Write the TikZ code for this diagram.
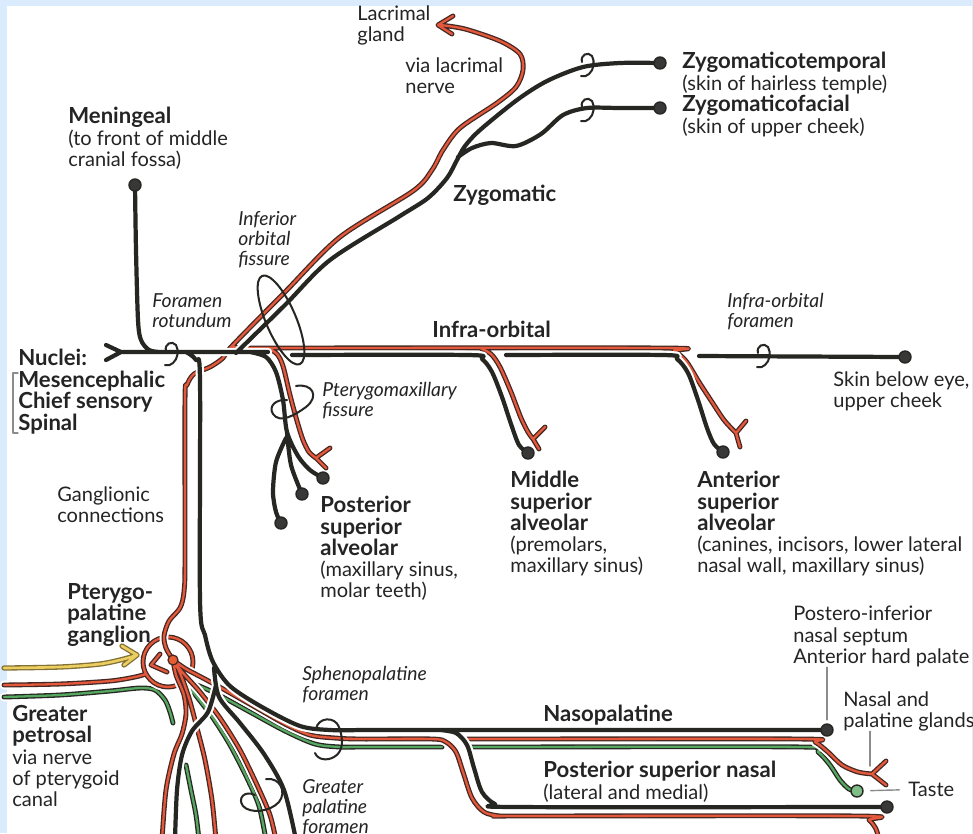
\documentclass[tikz,border=0pt]{standalone}
\usepackage{fontspec}
\setmainfont{Lato}
\definecolor{nred}{RGB}{228,88,60}
\definecolor{ngreen}{RGB}{86,168,96}
\definecolor{nyellow}{RGB}{236,206,96}
\definecolor{nblack}{RGB}{38,38,34}
\definecolor{nedge}{RGB}{70,40,34}
\definecolor{pagebg}{RGB}{217,235,252}
\definecolor{txt}{RGB}{36,36,36}
\newcommand\hd[1]{{\fontsize{12.6}{12.2}\selectfont\bfseries #1}}
\begin{document}
\begin{tikzpicture}[x=0.02cm, y=-0.02cm, line join=round, line cap=round,
  blk/.style={draw=nblack, line width=2.4pt, preaction={draw=white, line width=4.8pt}},
  rd/.style={draw=nred, line width=1.3pt, preaction={draw=white, line width=5pt}, preaction={draw=nedge, line width=2.8pt}},
  gr/.style={draw=ngreen, line width=1.3pt, preaction={draw=white, line width=5pt}, preaction={draw=nblack, line width=2.8pt}},
  yl/.style={draw=nyellow, line width=1.5pt, preaction={draw=black!45!nyellow, line width=3pt}},
  hole/.style={draw=nblack, line width=1.15pt},
  ptr/.style={draw=black!45, line width=0.8pt},
  dot/.style={circle, draw=nblack, fill=black!78, line width=0.8pt, minimum size=0.24cm, inner sep=0pt},
  lbl/.style={anchor=north west, inner sep=0pt, align=left, text=txt, font=\fontsize{11.4}{12.1}\selectfont},
  lblb/.style={lbl, font=\fontsize{12.6}{12.2}\selectfont\bfseries},
  ital/.style={lbl, font=\fontsize{11}{11.4}\selectfont\itshape},
  foramen/.pic={\draw[hole] (-6,-3) .. controls (-8,-10) and (0,-14) .. (4,-9) .. controls (7,-4) and (6,5) .. (1,9) .. controls (-1,11) and (-4,12) .. (-7,11);}
]
\useasboundingbox (0,0) rectangle (973,833);
\fill[pagebg] (0,0) rectangle (973,833);
\fill[white] (7,6) rectangle (972,833);

\coordinate (cMen) at (135,185);
\coordinate (cZT) at (660,63);
\coordinate (cZF) at (660,108);
\coordinate (cSkin) at (905,357);
\coordinate (cPSA1) at (323,478);
\coordinate (cPSA2) at (302,494);
\coordinate (cPSA3) at (281,523);
\coordinate (cMSA) at (528,453);
\coordinate (cASA) at (723,452);
\coordinate (cNP) at (827,730);
\coordinate (cPSN) at (887,807);
\coordinate (cTaste) at (857,791);
\coordinate (cGang) at (173,660);
\coordinate (cGland) at (870,766);

% green fibres
\draw[gr] plot[smooth, tension=0.5] coordinates {(4,697) (60,695) (110,691) (140,688) (155,690) (165,700) (170,712) (173,723)};
\draw[gr] plot[smooth, tension=0.5] coordinates {(186,683) (197,697) (213,718) (230,745) (247,778) (259,806) (266,840)}
  plot[smooth, tension=0.5] coordinates {(192,683) (215,693) (250,712) (285,731) (315,744) (340,747) (360,747) (442,747)}
  plot[smooth, tension=0.5] coordinates {(186,765) (191,790) (196,815) (199,840)}
  plot[smooth, tension=0.5] coordinates {(477,747) (500,747) (803,747) (818,752) (830,765) (840,780) (849,789) (cTaste)};

% red fibres
\draw[rd] plot[smooth, tension=0.5] coordinates {(4,685) (60,684) (110,681) (135,677) (146,674)}
  (160,654) -- (151,665) -- (167,672)
  (168,662) circle[radius=25];
\draw[rd] plot[smooth, tension=0.5] coordinates {(cGang) (166,648) (164,636) (169,621) (180,608) (184,592) (185,560) (185,400) (187,385) (194,374) (210,367) (223,358) (232,346) (285,292) (340,237) (413,191) (432,170) (443,150) (460,128) (497,103) (516,87) (523,70) (520,54) (500,41) (465,29) (440,25)}
  (453,16) -- (438,25) -- (452,34)
  plot[smooth, tension=0.5] coordinates {(232,346) (240,348) (262,348) (660,348) (674,351) (686,361) (699,382) (712,402) (724,420) (736,433)}
  (746,421) -- (736,433) -- (740,447)
  plot[smooth, tension=0.5] coordinates {(268,348) (277,354) (283,366) (290,395) (297,421) (303,440) (309,452) (316,458)}
  (330,448) -- (316,458) -- (326,468)
  plot[smooth, tension=0.5] coordinates {(480,348) (491,354) (500,367) (511,392) (521,418) (528,432) (533,439)}
  (545,427) -- (533,439) -- (539,449);
\draw[rd] plot[smooth, tension=0.5] coordinates {(cGang) (186,669) (203,678) (225,690) (255,707) (285,724) (310,735) (335,738) (360,739) (432,739) (446,742) (456,752) (463,772) (472,798) (484,812) (500,816) (520,816) (858,816) (869,820) (876,829) (879,840)}
  plot[smooth, tension=0.5] coordinates {(cGang) (183,673) (200,692) (220,718) (240,750) (258,787) (270,815) (276,840)}
  plot[smooth, tension=0.5] coordinates {(cGang) (176,675) (184,695) (186,714) (182,734) (174,754) (166,790) (162,840)}
  plot[smooth, tension=0.5] coordinates {(cGang) (180,673) (189,698) (197,728) (205,760) (212,800) (216,840)}
  plot[smooth, tension=0.5] coordinates {(470,739) (500,739) (800,739) (815,742) (828,752) (842,765) (858,772) (872,774)}
  (886,761) -- (872,774) -- (886,785);

% yellow fibres
\draw[yl] plot[smooth, tension=0.5] coordinates {(4,668) (60,667) (100,664) (124,659) (137,655)}
  (122,646) -- (137,655) -- (124,665);

% maxillary nerve
\draw[blk] (106,345) -- (121,352) -- (106,360)
  (121,352) -- (268,352)
  plot[smooth, tension=0.5] coordinates {(cMen) (136,250) (138,320) (141,340) (149,350) (160,352)}
  plot[smooth, tension=0.5] coordinates {(236,353) (285,305) (330,260) (400,216) (428,198) (447,178) (457,160) (465,146) (480,130) (517,100) (547,81) (583,67) (620,63) (cZT)}
  plot[smooth, tension=0.5] coordinates {(458,157) (472,148) (491,143) (516,146) (541,134) (563,115) (587,108) (620,108) (cZF)}
  plot[smooth, tension=0.5] coordinates {(250,352) (266,357) (276,372) (283,400) (287,432) (298,456) (310,470) (cPSA1)}
  plot[smooth, tension=0.5] coordinates {(287,432) (291,465) (cPSA2)}
  plot[smooth, tension=0.5] coordinates {(286,438) (276,462) (273,492) (276,512) (cPSA3)}
  plot[smooth, tension=0.5] coordinates {(292,355) (468,355) (482,359) (492,372) (502,397) (511,424) (519,445) (cMSA)}
  plot[smooth, tension=0.5] coordinates {(506,355) (663,355) (677,359) (688,373) (698,400) (707,428) (714,444) (cASA)}
  (699,356) -- (cSkin)
  plot[smooth, tension=0.5] coordinates {(186,352) (196,360) (200,380) (200,600) (205,635) (213,662) (230,686) (262,707) (300,726) (330,730) (360,730)} -- (cNP)
  plot[smooth, tension=0.5] coordinates {(214,668) (219,697) (240,723) (264,754) (284,790) (296,840)}
  plot[smooth, tension=0.5] coordinates {(216,685) (208,712) (192,731) (182,755) (177,790) (175,840)}
  plot[smooth, tension=0.5] coordinates {(440,730) (456,733) (467,745) (474,768) (482,792) (495,804) (515,807) (860,807)} -- (cPSN);

% foramina and fissures
\pic at (172,354) {foramen};
\pic at (588,65) {foramen};
\pic at (588,110) {foramen};
\pic at (764,356) {foramen};
\draw[hole, rotate around={-66.9:(281,320)}] (281,320) ellipse [x radius=48, y radius=15];
\draw[hole] (296,386) .. controls (312,383) and (320,396) .. (306,407) .. controls (295,415) and (280,424) .. (273,414) .. controls (268,406) and (276,399) .. (287,400);
\draw[hole] (316,729) .. controls (318,717) and (335,716) .. (339,727) .. controls (344,740) and (343,752) .. (334,757) .. controls (327,761) and (318,760) .. (315,753);
\draw[hole] (266,779) .. controls (280,777) and (287,792) .. (279,802) .. controls (270,812) and (250,814) .. (243,806) .. controls (237,798) and (245,790) .. (255,795);

% endings
\node[dot] (dotMen) at (cMen) {};
\node[dot] (dotZT) at (cZT) {};
\node[dot] (dotZF) at (cZF) {};
\node[dot] (dotSkin) at (cSkin) {};
\node[dot] (dotPSA1) at (cPSA1) {};
\node[dot] (dotPSA2) at (cPSA2) {};
\node[dot] (dotPSA3) at (cPSA3) {};
\node[dot] (dotMSA) at (cMSA) {};
\node[dot] (dotASA) at (cASA) {};
\node[dot] (dotNP) at (cNP) {};
\node[dot] (dotPSN) at (cPSN) {};
\node[dot, fill=ngreen!75!white] (dotTaste) at (cTaste) {};
\node[circle, draw=nedge, fill=nred!85!orange, line width=0.7pt, minimum size=0.2cm, inner sep=0pt] (dotGang) at (cGang) {};

% labels
\node[lbl] (lacr) at (357,5) {Lacrimal\\gland};
\node[lbl] (vialac) at (405,57) {via lacrimal\\nerve};
\node[lbl] (zt) at (682,52) {\hd{Zygomaticotemporal}\\(skin of hairless temple)};
\node[lbl] (zf) at (682,95) {\hd{Zygomaticofacial}\\(skin of upper cheek)};
\node[lbl] (men) at (68,107) {\hd{Meningeal}\\(to front of middle\\cranial fossa)};
\node[lblb] (zyg) at (453,185) {Zygomatic};
\node[ital] (iof) at (238,211) {Inferior\\orbital\\fissure};
\node[ital] (fr) at (152,293) {Foramen\\rotundum};
\node[lblb] (io) at (432,321) {Infra-orbital};
\node[ital] (iofor) at (727,293) {Infra-orbital\\foramen};
\node[lblb] (nuc) at (18,349) {Nuclei:\\Mesencephalic\\Chief sensory\\Spinal};
\node[lbl] (skin) at (833,371) {Skin below eye,\\upper cheek};
\node[ital] (ptm) at (322,382) {Pterygomaxillary\\fissure};
\node[lbl] (psa) at (320,496) {\hd{Posterior}\\\hd{superior}\\\hd{alveolar}\\(maxillary sinus,\\molar teeth)};
\node[lbl] (msa) at (510,471) {\hd{Middle}\\\hd{superior}\\\hd{alveolar}\\(premolars,\\maxillary sinus)};
\node[lbl] (asa) at (697,471) {\hd{Anterior}\\\hd{superior}\\\hd{alveolar}\\(canines, incisors, lower lateral\\nasal wall, maxillary sinus)};
\node[lbl] (gc) at (57,486) {Ganglionic\\connections};
\node[lblb] (ppg) at (67,583) {Pterygo-\\palatine\\ganglion};
\node[lbl] (gpet) at (12,705) {\hd{Greater}\\\hd{petrosal}\\via nerve\\of pterygoid\\canal};
\node[ital] (sph) at (302,666) {Sphenopalatine\\foramen};
\node[ital] (gpf) at (302,779) {Greater\\palatine\\foramen};
\node[lblb] (np) at (543,705) {Nasopalatine};
\node[lbl] (psn) at (543,761) {\hd{Posterior superior nasal}\\(lateral and medial)};
\node[lbl] (pi) at (793,606) {Postero-inferior\\nasal septum\\Anterior hard palate};
\node[lbl] (npg) at (843,691) {Nasal and\\palatine glands};
\node[lbl] (taste) at (908,782) {Taste};

% pointers
\draw[draw=black!45, line width=0.7pt] (18,373) -- (13,373) -- (13,433) -- (18,433);
\draw[ptr, shorten >=2pt] (pi.south -| dotNP) -- (dotNP.north);
\draw[ptr] (npg.south -| cGland) -- (cGland);
\draw[ptr, shorten <=4pt, shorten >=5pt] (dotTaste) -- (taste.west);
\end{tikzpicture}
\end{document}
